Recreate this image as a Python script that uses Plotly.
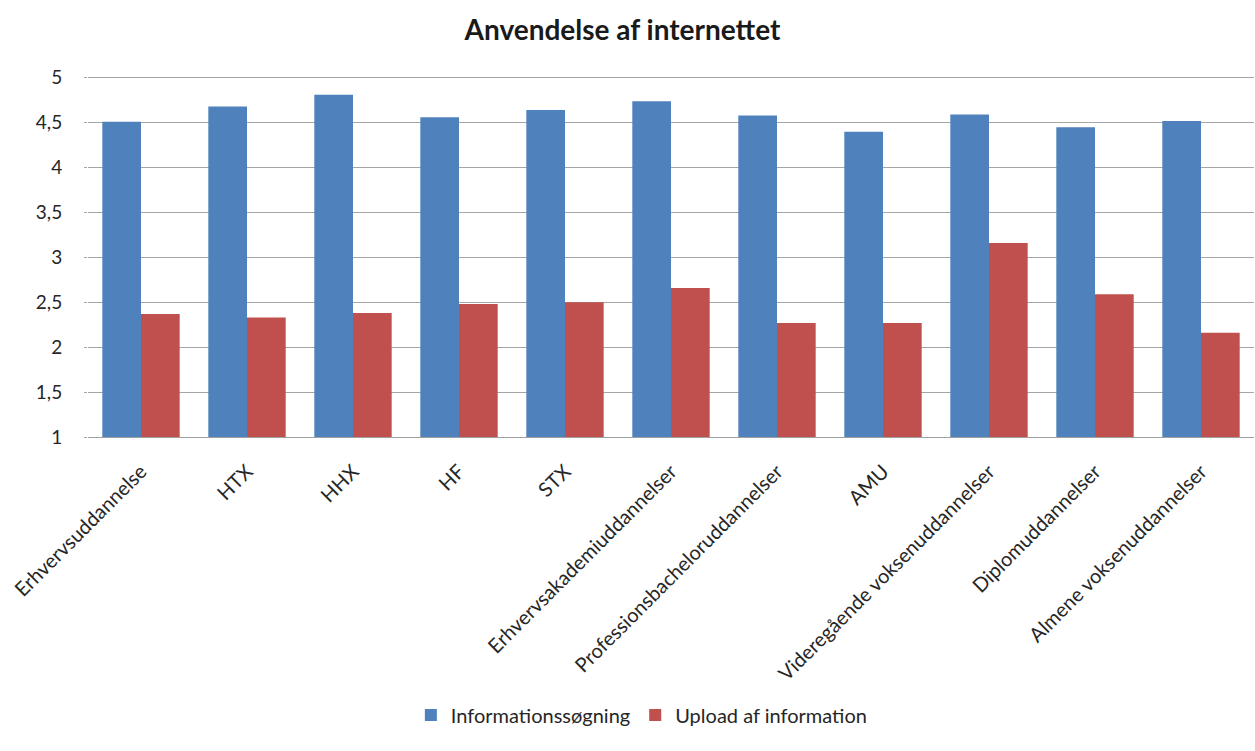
import plotly.graph_objects as go

categories = [
    "Erhvervsuddannelse", "HTX", "HHX", "HF", "STX",
    "Erhvervsakademiuddannelser", "Professionsbacheloruddannelser", "AMU",
    "Videregående voksenuddannelser", "Diplomuddannelser", "Almene voksenuddannelser",
]
informationssogning = [4.51, 4.68, 4.81, 4.56, 4.64, 4.74, 4.58, 4.40, 4.59, 4.45, 4.52]
upload_af_information = [2.37, 2.33, 2.38, 2.48, 2.50, 2.66, 2.27, 2.27, 3.16, 2.59, 2.16]
series_names = ["Informationssøgning", "Upload af information"]
y_tick_vals = [1, 1.5, 2, 2.5, 3, 3.5, 4, 4.5, 5]
y_tick_text = ["1", "1,5", "2", "2,5", "3", "3,5", "4", "4,5", "5"]

FONT = "Lato"

fig = go.Figure()
fig.add_trace(go.Bar(x=categories, y=informationssogning, name=series_names[0],
                     marker=dict(color="#4F81BD", line=dict(width=0))))
fig.add_trace(go.Bar(x=categories, y=upload_af_information, name=series_names[1],
                     marker=dict(color="#C0504D", line=dict(width=0))))

fig.update_layout(
    width=1255, height=751,
    margin=dict(l=88, r=1, t=76, b=314, autoexpand=False),
    paper_bgcolor="white", plot_bgcolor="white",
    barmode="group", bargap=0.27, bargroupgap=0,
    font=dict(family=FONT, color="#262626"),
    title=dict(text="<b>Anvendelse af internettet</b>", x=0.496, xanchor="center",
               y=0.960, yanchor="middle", font=dict(family=FONT, size=28, color="#1a1a1a")),
    legend=dict(orientation="h", x=0.475, xanchor="center", y=-0.77, yanchor="middle",
                font=dict(family=FONT, size=20, color="#262626"), itemwidth=30,
                traceorder="normal"),
    showlegend=True,
)
fig.update_xaxes(
    type="category", tickangle=-45, tickfont=dict(family=FONT, size=20, color="#262626"),
    showline=True, linecolor="#a0a0a0", linewidth=1, showgrid=False,
    ticks="outside", ticklen=14, tickcolor="rgba(0,0,0,0)", fixedrange=True,
)
fig.update_yaxes(
    range=[1, 5.02], tickvals=y_tick_vals, ticktext=y_tick_text,
    showgrid=True, gridcolor="#a6a6a6", gridwidth=1,
    showline=False, zeroline=False, ticks="outside", ticklen=3, tickcolor="#a6a6a6",
    tickfont=dict(family=FONT, size=19, color="#262626"), ticklabelstandoff=18,
)

fig.write_html("out.html")
